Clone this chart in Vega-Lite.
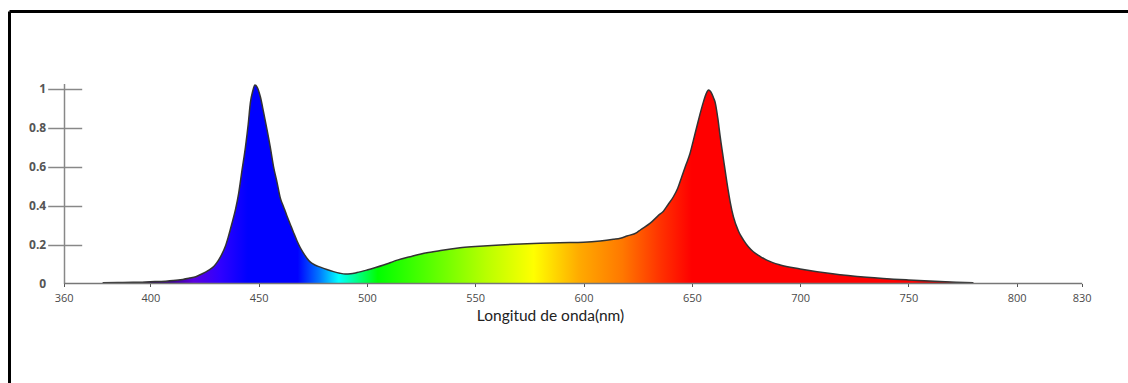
{
  "$schema": "https://vega.github.io/schema/vega-lite/v6.json",
  "width": 1119,
  "height": 372,
  "autosize": {"type": "none"},
  "padding": {"left": 9, "top": 11, "right": 0, "bottom": 0},
  "background": "white",
  "config": {"view": {"stroke": null}, "axis": {"grid": false}},
  "data": {"values": [
    {"nm": 378, "v": 0.004}, {"nm": 385, "v": 0.005}, {"nm": 392, "v": 0.006}, {"nm": 400, "v": 0.009},
    {"nm": 407, "v": 0.012}, {"nm": 413, "v": 0.018}, {"nm": 418, "v": 0.028}, {"nm": 421, "v": 0.035},
    {"nm": 424, "v": 0.05}, {"nm": 427, "v": 0.069}, {"nm": 429.5, "v": 0.09}, {"nm": 431.5, "v": 0.12},
    {"nm": 433, "v": 0.15}, {"nm": 434.6, "v": 0.19}, {"nm": 436, "v": 0.24}, {"nm": 437.7, "v": 0.31},
    {"nm": 439.3, "v": 0.38}, {"nm": 440.8, "v": 0.465}, {"nm": 442.3, "v": 0.58}, {"nm": 443.9, "v": 0.7},
    {"nm": 445.2, "v": 0.82}, {"nm": 446.2, "v": 0.93}, {"nm": 447.3, "v": 0.99}, {"nm": 448.3, "v": 1.02},
    {"nm": 449.3, "v": 1.01}, {"nm": 450.8, "v": 0.96}, {"nm": 452.3, "v": 0.88}, {"nm": 453.9, "v": 0.79},
    {"nm": 455.4, "v": 0.7}, {"nm": 456.9, "v": 0.6}, {"nm": 458.5, "v": 0.52}, {"nm": 460, "v": 0.44},
    {"nm": 461.5, "v": 0.395}, {"nm": 463, "v": 0.35}, {"nm": 464.6, "v": 0.305}, {"nm": 466.2, "v": 0.26},
    {"nm": 467.7, "v": 0.22}, {"nm": 469.2, "v": 0.185}, {"nm": 470.8, "v": 0.155}, {"nm": 472.3, "v": 0.13},
    {"nm": 473.9, "v": 0.11}, {"nm": 476, "v": 0.095}, {"nm": 478.5, "v": 0.084}, {"nm": 481.5, "v": 0.072},
    {"nm": 484.6, "v": 0.061}, {"nm": 487.5, "v": 0.053}, {"nm": 490, "v": 0.049}, {"nm": 492.5, "v": 0.05},
    {"nm": 495.4, "v": 0.056}, {"nm": 500, "v": 0.069}, {"nm": 504, "v": 0.082}, {"nm": 507.7, "v": 0.095},
    {"nm": 511, "v": 0.108}, {"nm": 514, "v": 0.12}, {"nm": 520, "v": 0.138}, {"nm": 525, "v": 0.152},
    {"nm": 530, "v": 0.162}, {"nm": 534, "v": 0.17}, {"nm": 543, "v": 0.184}, {"nm": 550, "v": 0.19},
    {"nm": 561.5, "v": 0.198}, {"nm": 571, "v": 0.203}, {"nm": 580, "v": 0.207}, {"nm": 589, "v": 0.21},
    {"nm": 600, "v": 0.212}, {"nm": 607.7, "v": 0.218}, {"nm": 613.8, "v": 0.227}, {"nm": 617, "v": 0.233},
    {"nm": 620, "v": 0.244}, {"nm": 624.6, "v": 0.262}, {"nm": 626.2, "v": 0.275}, {"nm": 630.8, "v": 0.31},
    {"nm": 634.6, "v": 0.35}, {"nm": 636.9, "v": 0.372}, {"nm": 639, "v": 0.405}, {"nm": 641.5, "v": 0.446},
    {"nm": 643.5, "v": 0.49}, {"nm": 645.4, "v": 0.55}, {"nm": 647.3, "v": 0.61}, {"nm": 649.2, "v": 0.67},
    {"nm": 650.8, "v": 0.74}, {"nm": 652.3, "v": 0.806}, {"nm": 654, "v": 0.88}, {"nm": 655.4, "v": 0.935},
    {"nm": 656.6, "v": 0.975}, {"nm": 657.7, "v": 0.995}, {"nm": 658.8, "v": 0.985}, {"nm": 660, "v": 0.955},
    {"nm": 660.8, "v": 0.93}, {"nm": 662, "v": 0.85}, {"nm": 663.1, "v": 0.755}, {"nm": 664.6, "v": 0.64},
    {"nm": 666.2, "v": 0.52}, {"nm": 667.7, "v": 0.42}, {"nm": 669.2, "v": 0.343}, {"nm": 671.5, "v": 0.27},
    {"nm": 673.8, "v": 0.224}, {"nm": 676, "v": 0.19}, {"nm": 678.4, "v": 0.163}, {"nm": 681.5, "v": 0.14},
    {"nm": 684.6, "v": 0.12}, {"nm": 690.8, "v": 0.095}, {"nm": 700, "v": 0.075}, {"nm": 715, "v": 0.05},
    {"nm": 730.8, "v": 0.032}, {"nm": 750, "v": 0.018}, {"nm": 764.6, "v": 0.01}, {"nm": 772, "v": 0.007},
    {"nm": 780, "v": 0.004}
  ]},
  "resolve": {"axis": {"x": "independent", "y": "independent"}},
  "layer": [
    {
      "mark": {
        "type": "area",
        "interpolate": "monotone",
        "fill": {
          "gradient": "linear", "x1": 0, "y1": 0, "x2": 1, "y2": 0,
          "stops": [
            {"offset": 0, "color": "#100020"},
            {"offset": 0.0498, "color": "#1a0033"},
            {"offset": 0.0796, "color": "#3c0090"},
            {"offset": 0.1045, "color": "#5a00e0"},
            {"offset": 0.1343, "color": "#3000ff"},
            {"offset": 0.1667, "color": "#0000ff"},
            {"offset": 0.2239, "color": "#0000ff"},
            {"offset": 0.2488, "color": "#0078ff"},
            {"offset": 0.2711, "color": "#00ffff"},
            {"offset": 0.2935, "color": "#00ff80"},
            {"offset": 0.3159, "color": "#00ff00"},
            {"offset": 0.3781, "color": "#5aff00"},
            {"offset": 0.4403, "color": "#b8ff00"},
            {"offset": 0.495, "color": "#ffff00"},
            {"offset": 0.5473, "color": "#ffaa00"},
            {"offset": 0.597, "color": "#ff7800"},
            {"offset": 0.6418, "color": "#ff3000"},
            {"offset": 0.6766, "color": "#ff0000"},
            {"offset": 0.93, "color": "#ff0000"},
            {"offset": 0.97, "color": "#a00000"},
            {"offset": 1, "color": "#600000"}
          ]
        }
      },
      "encoding": {
        "x": {
          "field": "nm", "type": "quantitative",
          "scale": {"domain": [334.75, 851.38], "nice": false, "zero": false},
          "axis": {
            "orient": "bottom", "offset": -99.5,
            "values": [360, 400, 450, 500, 550, 600, 650, 700, 750, 800, 830],
            "domain": false, "tickSize": 3, "tickColor": "#555", "tickWidth": 1,
            "labelFont": "Open Sans", "labelFontSize": 11, "labelColor": "#4a4a4a",
            "labelPadding": 6, "labelFlush": false, "labelOverlap": false,
            "title": "Longitud de onda(nm)", "titleFont": "Lato", "titleFontSize": 15.5,
            "titleFontWeight": "normal", "titleColor": "#222",
            "titleX": 541, "titleY": 37, "titleBaseline": "alphabetic", "titleAlign": "center"
          }
        },
        "y": {
          "field": "v", "type": "quantitative",
          "scale": {"domain": [-0.5116, 1.401], "nice": false, "zero": false},
          "axis": {
            "orient": "left", "offset": -54.7,
            "values": [0, 0.2, 0.4, 0.6, 0.8, 1], "format": "~g",
            "domain": false, "tickSize": 16, "tickColor": "#888", "tickWidth": 1.5,
            "tickOpacity": {"condition": {"test": "datum.value === 0", "value": 0}, "value": 1},
            "labelFont": "Open Sans", "labelFontSize": 12, "labelFontWeight": "bold",
            "labelColor": "#555", "labelPadding": 2, "title": null
          }
        },
        "y2": {"datum": 0}
      }
    },
    {
      "mark": {"type": "line", "interpolate": "monotone", "stroke": "#333", "strokeWidth": 1.5},
      "encoding": {
        "x": {
          "field": "nm", "type": "quantitative",
          "scale": {"domain": [334.75, 851.38], "nice": false, "zero": false},
          "axis": {
            "orient": "bottom", "offset": -99.5, "values": [360],
            "domain": false, "labels": false, "tickSize": -200,
            "tickColor": "#888", "tickWidth": 1.5, "title": null
          }
        },
        "y": {
          "field": "v", "type": "quantitative",
          "scale": {"domain": [-0.5116, 1.401], "nice": false, "zero": false},
          "axis": {
            "orient": "left", "offset": -54.7, "values": [0],
            "domain": false, "labels": false, "tickSize": -1018,
            "tickColor": "#777", "tickWidth": 1.5, "title": null, "zindex": 1
          }
        }
      }
    },
    {
      "mark": {"type": "point", "opacity": 0},
      "encoding": {
        "x": {
          "field": "nm", "type": "quantitative",
          "scale": {"domain": [334.75, 851.38], "nice": false, "zero": false},
          "axis": {
            "orient": "top", "offset": 0, "domain": true, "domainColor": "#000",
            "domainWidth": 3, "ticks": false, "labels": false, "title": null
          }
        },
        "y": {
          "field": "v", "type": "quantitative",
          "scale": {"domain": [-0.5116, 1.401], "nice": false, "zero": false},
          "axis": {
            "orient": "left", "offset": -54.7, "values": [0.2, 0.4, 0.6, 0.8, 1],
            "domain": false, "labels": false, "tickSize": -18,
            "tickColor": "#888", "tickWidth": 1.5, "title": null
          }
        }
      }
    },
    {
      "mark": {"type": "point", "opacity": 0},
      "encoding": {
        "x": {
          "field": "nm", "type": "quantitative",
          "scale": {"domain": [334.75, 851.38], "nice": false, "zero": false},
          "axis": null
        },
        "y": {
          "field": "v", "type": "quantitative",
          "scale": {"domain": [-0.5116, 1.401], "nice": false, "zero": false},
          "axis": {
            "orient": "left", "offset": 0, "domain": true, "domainColor": "#000",
            "domainWidth": 3, "ticks": false, "labels": false, "title": null
          }
        }
      }
    }
  ]
}
